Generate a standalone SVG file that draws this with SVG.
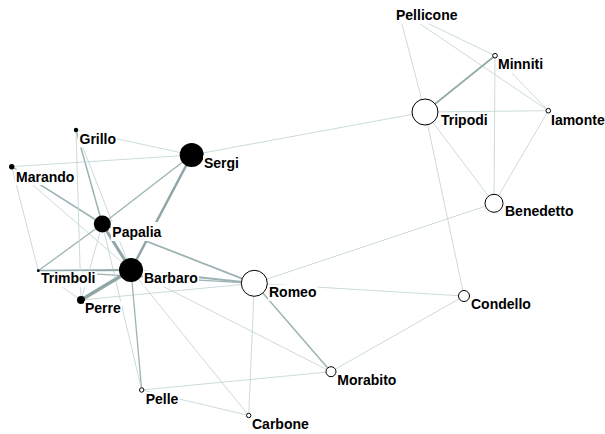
<svg xmlns="http://www.w3.org/2000/svg" width="605" height="434" viewBox="0 0 605 434">
<style>
.e{stroke:#c6d6d6;stroke-width:0.9;fill:none}
.m{stroke:#9db3b3;stroke-width:1.5;fill:none}
.t{stroke:#8ea6a6;fill:none}
.b{fill:#000}
.w{fill:#fff;stroke:#000;stroke-width:1}
.lb{fill:#fff}
text{font-family:"Liberation Sans",Arial,sans-serif;font-weight:bold;font-size:14px;fill:#000}
</style>
<rect width="605" height="434" fill="#fff"/>
<g id="edges">
<line class="e" x1="398" y1="9" x2="425" y2="112"/>
<line class="e" x1="398" y1="9" x2="495" y2="55.7"/>
<line class="e" x1="398" y1="9" x2="548.3" y2="110.7"/>
<line class="m" x1="495" y1="55.7" x2="425" y2="112" style="stroke-width:1.8;stroke:#94abab"/>
<line class="e" x1="495" y1="55.7" x2="494" y2="203.3"/>
<line class="e" x1="495" y1="55.7" x2="548.3" y2="110.7"/>
<line class="e" x1="425" y1="112" x2="548.3" y2="110.7"/>
<line class="e" x1="425" y1="112" x2="494" y2="203.3"/>
<line class="e" x1="425" y1="112" x2="464" y2="296"/>
<line class="e" x1="548.3" y1="110.7" x2="494" y2="203.3"/>
<line class="e" x1="191.7" y1="155" x2="425" y2="112"/>
<line class="e" x1="494" y1="203.3" x2="254.3" y2="283.3"/>
<line class="e" x1="464" y1="296" x2="254.3" y2="283.3"/>
<line class="e" x1="464" y1="296" x2="331" y2="371.7"/>
<line class="m" x1="254.3" y1="283.3" x2="331" y2="371.7"/>
<line class="e" x1="254.3" y1="283.3" x2="248.7" y2="415.5"/>
<line class="m" x1="254.3" y1="283.3" x2="102.3" y2="224" style="stroke-width:1.8"/>
<line class="m" x1="254.3" y1="283.3" x2="131" y2="270" style="stroke-width:2"/>
<line class="m" x1="254.3" y1="283.3" x2="38.3" y2="270.7" style="stroke-width:1.3"/>
<line class="e" x1="254.3" y1="283.3" x2="81" y2="300"/>
<line class="e" x1="131" y1="270" x2="331" y2="371.7"/>
<line class="e" x1="131" y1="270" x2="248.7" y2="415.5"/>
<line class="m" x1="131" y1="270" x2="141.7" y2="390" style="stroke-width:1.3"/>
<line class="e" x1="141.7" y1="390" x2="248.7" y2="415.5"/>
<line class="e" x1="141.7" y1="390" x2="331" y2="371.7"/>
<line class="e" x1="102.3" y1="224" x2="141.7" y2="390"/>
<line class="t" x1="131" y1="270" x2="81" y2="300" style="stroke-width:3.5"/>
<line class="t" x1="131" y1="270" x2="102.3" y2="224" style="stroke-width:3"/>
<line class="t" x1="131" y1="270" x2="191.7" y2="155" style="stroke-width:2.5"/>
<line class="t" x1="131" y1="270" x2="38.3" y2="270.7" style="stroke-width:2"/>
<line class="e" x1="131" y1="270" x2="76" y2="130"/>
<line class="e" x1="131" y1="270" x2="11.7" y2="166.7"/>
<line class="m" x1="102.3" y1="224" x2="191.7" y2="155" style="stroke-width:1.3"/>
<line class="m" x1="102.3" y1="224" x2="11.7" y2="166.7"/>
<line class="m" x1="102.3" y1="224" x2="76" y2="130"/>
<line class="m" x1="102.3" y1="224" x2="38.3" y2="270.7" style="stroke-width:1.3"/>
<line class="e" x1="102.3" y1="224" x2="81" y2="300"/>
<line class="e" x1="76" y1="130" x2="81" y2="300"/>
<line class="e" x1="76" y1="130" x2="191.7" y2="155"/>
<line class="e" x1="11.7" y1="166.7" x2="191.7" y2="155"/>
<line class="e" x1="11.7" y1="166.7" x2="38.3" y2="270.7"/>
<line class="e" x1="38.3" y1="270.7" x2="81" y2="300"/>
</g>
<g id="Pellicone"><rect class="lb" x="395" y="8" width="64" height="16"/><text x="396" y="20">Pellicone</text></g>
<g id="Minniti"><circle class="w" cx="495" cy="55.7" r="2.3"/><rect class="lb" x="497" y="57" width="48" height="16"/><text x="498" y="69">Minniti</text></g>
<g id="Tripodi"><circle class="w" cx="425" cy="112" r="13"/><rect class="lb" x="440" y="113.5" width="50" height="15.5"/><text x="441" y="125">Tripodi</text></g>
<g id="Iamonte"><circle class="w" cx="548.3" cy="110.7" r="2.3"/><rect class="lb" x="550" y="113.5" width="56" height="15.5"/><text x="551" y="125">Iamonte</text></g>
<g id="Benedetto"><circle class="w" cx="494" cy="203.3" r="9"/><rect class="lb" x="504" y="204" width="71" height="16"/><text x="505" y="216">Benedetto</text></g>
<g id="Condello"><circle class="w" cx="464" cy="296" r="5.5"/><rect class="lb" x="470" y="297" width="62" height="16"/><text x="471" y="309">Condello</text></g>
<g id="Sergi"><circle class="b" cx="191.7" cy="155" r="12"/><rect class="lb" x="203" y="155.5" width="37" height="16"/><text x="204" y="167.5">Sergi</text></g>
<g id="Grillo"><circle class="b" cx="76" cy="130" r="2.2"/><rect class="lb" x="78" y="131.5" width="39" height="16"/><text x="79.5" y="143.5">Grillo</text></g>
<g id="Marando"><circle class="b" cx="11.7" cy="166.7" r="2.7"/><rect class="lb" x="15" y="169.5" width="60" height="15.5"/><text x="16" y="181.5">Marando</text></g>
<g id="Papalia"><circle class="b" cx="102.3" cy="224" r="8.5"/><rect class="lb" x="111" y="222" width="52" height="19"/><text x="112.3" y="236.7">Papalia</text></g>
<g id="Barbaro"><circle class="b" cx="131" cy="270" r="12"/><rect class="lb" x="143" y="270.7" width="56" height="16"/><text x="144" y="282.7">Barbaro</text></g>
<g id="Trimboli"><circle class="b" cx="38.3" cy="270.7" r="1.4"/><rect class="lb" x="40" y="271.3" width="57" height="16"/><text x="41" y="283.3">Trimboli</text></g>
<g id="Perre"><circle class="b" cx="81" cy="300" r="4"/><rect class="lb" x="84" y="301.3" width="38" height="16"/><text x="85" y="313.3">Perre</text></g>
<g id="Romeo"><circle class="w" cx="254.3" cy="283.3" r="13"/><rect class="lb" x="268" y="284.7" width="50" height="16"/><text x="269" y="296.7">Romeo</text></g>
<g id="Morabito"><circle class="w" cx="331" cy="371.7" r="5"/><rect class="lb" x="336.3" y="373" width="61" height="16"/><text x="337.3" y="385">Morabito</text></g>
<g id="Pelle"><circle class="w" cx="141.7" cy="390" r="2.2"/><rect class="lb" x="144.7" y="392" width="35" height="16"/><text x="145.7" y="404">Pelle</text></g>
<g id="Carbone"><circle class="w" cx="248.7" cy="415.5" r="2.2"/><rect class="lb" x="251" y="417.3" width="59" height="16"/><text x="252" y="429.3">Carbone</text></g>
</svg>
